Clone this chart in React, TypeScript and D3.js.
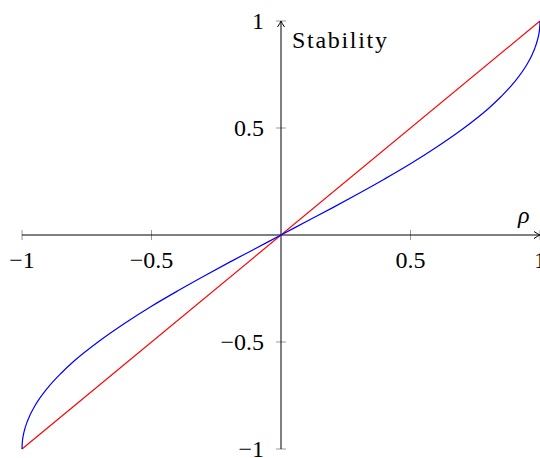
import React from "react";
import * as d3 from "d3";

const rhoValues = [-1, -0.999, -0.995, -0.99, -0.98, -0.97, -0.95, -0.9, -0.85, -0.8, -0.7, -0.6, -0.5, -0.4, -0.3, -0.2, -0.1, 0, 0.1, 0.2, 0.3, 0.4, 0.5, 0.6, 0.7, 0.8, 0.85, 0.9, 0.95, 0.97, 0.98, 0.99, 0.995, 0.999, 1];
const stabilityValues = [-1, -0.972, -0.936, -0.91, -0.873, -0.844, -0.798, -0.713, -0.647, -0.59, -0.494, -0.41, -0.333, -0.262, -0.194, -0.128, -0.064, 0, 0.064, 0.128, 0.194, 0.262, 0.333, 0.41, 0.494, 0.59, 0.647, 0.713, 0.798, 0.844, 0.873, 0.91, 0.936, 0.972, 1];
const diagonalRho = [-1, 1];
const diagonalValues = [-1, 1];
const xTicks = [-1, -0.5, 0.5, 1];
const yTicks = [-1, -0.5, 0.5, 1];
const xTickLabels = ["\u22121", "\u22120.5", "0.5", "1"];
const yTickLabels = ["\u22121", "\u22120.5", "0.5", "1"];

const W = 540;
const H = 458;
const FONT = "'Liberation Serif', 'DejaVu Serif', serif";
const FS = 24;

export default function App() {
  const x = d3.scaleLinear().domain([-1, 1]).range([22, 540]);
  const y = d3.scaleLinear().domain([-1, 1]).range([449, 21]);
  const line = d3
    .line<[number, number]>()
    .x((d) => x(d[0]))
    .y((d) => y(d[1]))
    .curve(d3.curveMonotoneX);
  const blue = line(rhoValues.map((r, i) => [r, stabilityValues[i]] as [number, number])) || "";
  const red = d3
    .line<[number, number]>()
    .x((d) => x(d[0]))
    .y((d) => y(d[1]))(diagonalRho.map((r, i) => [r, diagonalValues[i]] as [number, number])) || "";
  const x0 = x(0);
  const y0 = y(0);
  const arrow = (px: number, py: number, dir: "right" | "up") => {
    if (dir === "right") {
      return `M${px - 6},${py - 3.5} Q${px - 2},${py - 0.8} ${px},${py} Q${px - 2},${py + 0.8} ${px - 6},${py + 3.5}`;
    }
    return `M${px - 3.5},${py + 6} Q${px - 0.8},${py + 2} ${px},${py} Q${px + 0.8},${py + 2} ${px + 3.5},${py + 6}`;
  };
  return (
    <svg
      width={W}
      height={H}
      style={{ position: "absolute", left: 0, top: 0, background: "#fff" }}
      fontFamily={FONT}
    >
      {xTicks.map((t) => (
        <line key={"xt" + t} x1={x(t)} x2={x(t)} y1={y0 - 5} y2={y0 + 5} stroke="#999" strokeWidth={1} />
      ))}
      {yTicks.map((t) => (
        <line key={"yt" + t} x1={x0 - 5} x2={x0 + 5} y1={y(t)} y2={y(t)} stroke="#999" strokeWidth={1} />
      ))}
      <line x1={x(-1)} x2={x(1) - 1} y1={y0} y2={y0} stroke="#000" strokeWidth={1} />
      <line x1={x0} x2={x0} y1={y(-1)} y2={y(1) + 1} stroke="#000" strokeWidth={1} />
      <path d={arrow(x(1), y0, "right")} fill="none" stroke="#000" strokeWidth={1} />
      <path d={arrow(x0, y(1), "up")} fill="none" stroke="#000" strokeWidth={1} />
      <path d={red} fill="none" stroke="#ff0000" strokeWidth={1.2} />
      <path d={blue} fill="none" stroke="#0000ff" strokeWidth={1.2} />
      {xTicks.map((t, i) => (
        <text key={"xl" + t} x={x(t)} y={y0 + 33} textAnchor="middle" fontSize={FS} fill="#000">
          {xTickLabels[i]}
        </text>
      ))}
      {yTicks.map((t, i) => (
        <text key={"yl" + t} x={x0 - 17} y={y(t) + 8} textAnchor="end" fontSize={FS} fill="#000">
          {yTickLabels[i]}
        </text>
      ))}
      <text x={x0 + 11} y={y(1) + 27} fontSize={FS} letterSpacing={1.7} fill="#000">Stability</text>
      <text x={x(1) - 22} y={y0 - 12} fontSize={FS} fontStyle="italic" fill="#000">ρ</text>
    </svg>
  );
}
